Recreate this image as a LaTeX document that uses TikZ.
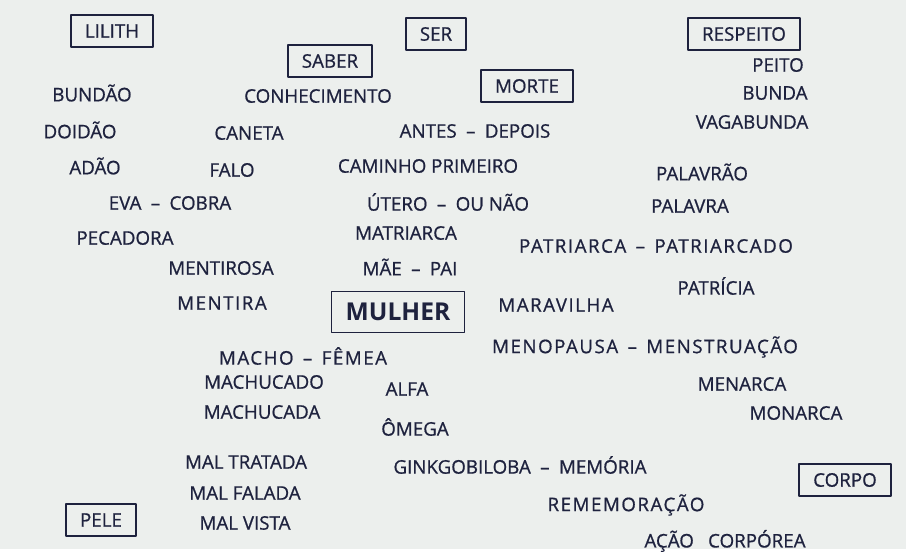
\documentclass[tikz,border=0pt]{standalone}
\usepackage{fontspec}
\setmainfont{Open Sans}
\definecolor{board}{RGB}{236,239,237}
\definecolor{ink}{RGB}{30,34,62}
\newcommand{\traco}{\hspace{0.5em}–\hspace{0.5em}}
\begin{document}
\begin{tikzpicture}[x=0.03cm,y=-0.03cm,line join=round,line cap=round,
	word/.style={text=ink,inner sep=0pt,font=\fontsize{16}{18}\selectfont\addfontfeature{FakeBold=0.8}},
	wide/.style={word,font=\fontsize{16}{18}\selectfont\addfontfeature{FakeBold=0.8,LetterSpace=8}},
	keybox/.style={word,draw=ink,line width=1.4pt,inner xsep=12pt,inner ysep=8pt}]
	\fill [board] (0,0) rectangle (906,549);
	% palavras-chave em caixas
	\node [keybox] (lilith) at (112,31) {LILITH};
	\node [keybox] (saber) at (330,61) {SABER};
	\node [keybox] (ser) at (436,34) {SER};
	\node [keybox] (morte) at (527,86) {MORTE};
	\node [keybox] (respeito) at (744,34) {RESPEITO};
	\node [keybox,inner xsep=12pt,inner ysep=10pt,font=\fontsize{21}{24}\selectfont\bfseries] (mulher) at (398,312) {MULHER};
	\node [keybox] (corpo) at (845,480) {CORPO};
	\node [keybox] (pele) at (101,520) {PELE};
	% coluna da esquerda
	\node [word] (bundao) at (92,93) {BUNDÃO};
	\node [word] (doidao) at (80,130) {DOIDÃO};
	\node [word] (adao) at (95,166) {ADÃO};
	\node [word] (eva) at (170,203) {EVA\traco COBRA};
	\node [word] (pecadora) at (125,238) {PECADORA};
	\node [word] (mentirosa) at (221,268) {MENTIROSA};
	\node [wide] (mentira) at (222,303) {MENTIRA};
	% meio
	\node [word] (conhecimento) at (318,96) {CONHECIMENTO};
	\node [word] (caneta) at (249,133) {CANETA};
	\node [word] (falo) at (232,170) {FALO};
	\node [word] (antes) at (475,131) {ANTES\traco DEPOIS};
	\node [word] (caminho) at (428,166) {CAMINHO PRIMEIRO};
	\node [word] (utero) at (448,202) {ÚTERO\traco OU NÃO};
	\node [word] (matriarca) at (406,233) {MATRIARCA};
	\node [word] (mae) at (410,267) {MÃE\traco PAI};
	\node [wide] (macho) at (303,356) {MACHO\traco FÊMEA};
	\node [word] (machucado) at (264,382) {MACHUCADO};
	\node [word] (machucada) at (262,412) {MACHUCADA};
	\node [word] (maltratada) at (246,462) {MAL TRATADA};
	\node [word] (malfalada) at (245,493) {MAL FALADA};
	\node [word] (malvista) at (245,523) {MAL VISTA};
	\node [word] (alfa) at (407,389) {ALFA};
	\node [word] (omega) at (415,427) {ÔMEGA};
	\node [word] (ginkgo) at (520,465) {GINKGOBILOBA\traco MEMÓRIA};
	\node [wide] (rememoracao) at (626,505) {REMEMORAÇÃO};
	\node [word] (acao) at (725,541) {AÇÃO\hspace{0.5em} CORPÓREA};
	% coluna da direita
	\node [word] (peito) at (778,65) {PEITO};
	\node [word] (bunda) at (775,93) {BUNDA};
	\node [word] (vagabunda) at (752,122) {VAGABUNDA};
	\node [word] (palavrao) at (702,172) {PALAVRÃO};
	\node [word] (palavra) at (690,206) {PALAVRA};
	\node [wide] (patriarca) at (656,246) {PATRIARCA\traco PATRIARCADO};
	\node [word] (patricia) at (716,286) {PATRÍCIA};
	\node [wide] (maravilha) at (556,305) {MARAVILHA};
	\node [wide] (menopausa) at (645,347) {MENOPAUSA\traco MENSTRUAÇÃO};
	\node [word] (menarca) at (742,384) {MENARCA};
	\node [word] (monarca) at (796,413) {MONARCA};
\end{tikzpicture}
\end{document}
